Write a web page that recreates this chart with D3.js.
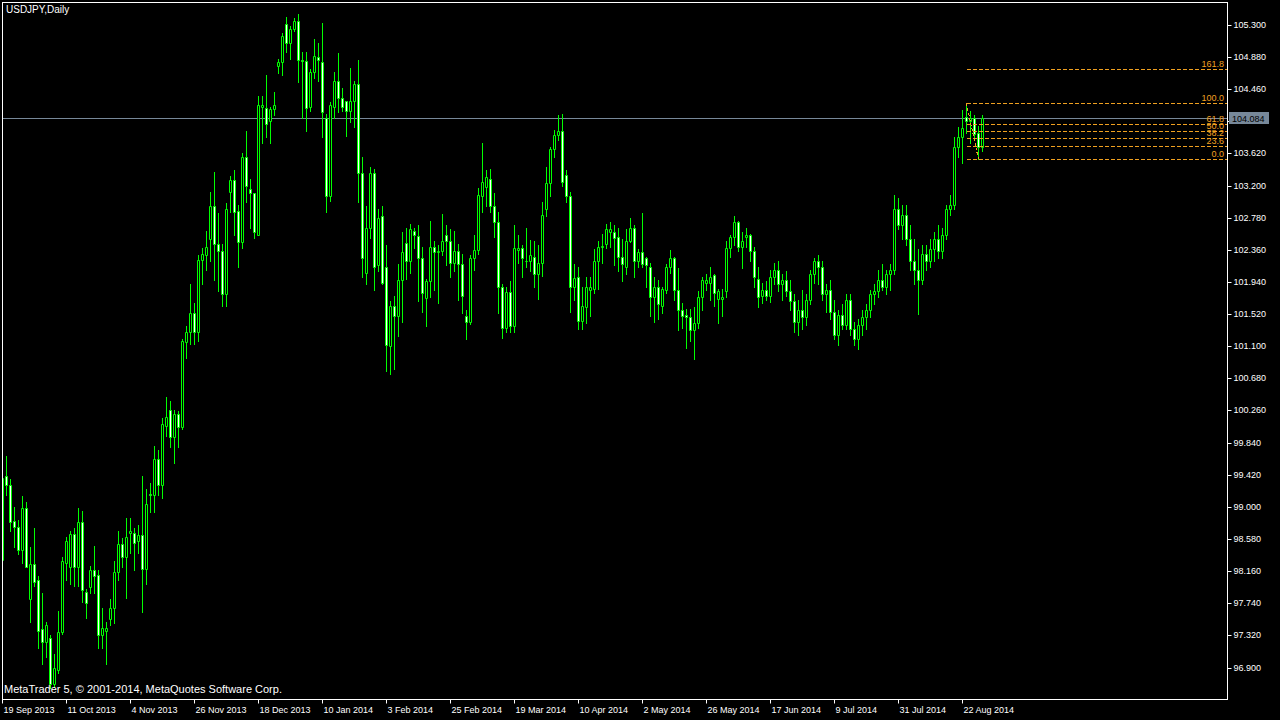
<!DOCTYPE html>
<html><head><meta charset="utf-8">
<script src="https://cdn.jsdelivr.net/npm/d3@7"></script>
<style>html,body{margin:0;padding:0;background:#000;overflow:hidden}</style>
</head><body>
<svg id="c" width="1280" height="720"></svg>
<script>
const chartTitle = "USDJPY,Daily";
const copyrightText = "MetaTrader 5, © 2001-2014, MetaQuotes Software Corp.";

const opens = [98.31,99.41,99.28,98.81,98.74,98.43,98.98,97.80,98.25,98.04,
97.40,97.23,97.29,96.69,96.87,97.36,98.27,98.22,98.65,98.21,
98.80,97.89,97.95,98.18,98.11,97.32,97.38,97.53,97.68,98.15,
98.52,98.35,98.66,98.66,98.55,98.63,98.19,99.17,99.16,99.63,
99.28,100.06,100.27,99.92,100.21,100.05,101.16,101.28,101.54,101.29,
102.23,102.29,102.50,102.94,102.44,102.34,101.78,103.12,103.28,102.87,
102.46,103.58,103.16,103.10,102.56,104.23,104.22,104.05,104.20,104.77,
104.81,105.31,105.07,105.25,105.35,104.84,104.83,104.23,104.68,104.88,
104.82,104.09,103.06,104.23,104.57,104.35,104.30,104.17,104.30,104.53,
103.37,102.06,102.65,103.37,102.16,102.80,102.14,101.10,101.62,101.49,
101.96,102.45,102.21,102.61,102.54,102.26,101.73,101.95,102.40,102.33,
102.34,102.56,102.47,102.19,102.35,102.18,101.49,101.42,102.26,102.36,
103.07,103.18,103.29,102.94,102.72,101.87,101.34,101.81,101.37,102.36,
102.39,102.21,102.21,102.27,102.05,102.19,102.89,103.23,103.68,103.86,
103.92,103.34,103.06,101.87,102.00,101.43,101.61,101.83,101.85,102.22,
102.40,102.44,102.60,102.60,102.53,102.27,102.13,102.48,102.65,102.21,
102.33,102.26,102.14,101.74,101.88,101.63,101.84,102.14,102.26,101.83,
101.57,101.51,101.48,101.31,101.41,101.75,101.93,101.93,102.03,101.72,
101.72,101.82,102.38,102.53,102.73,102.40,102.53,102.55,102.35,101.98,
101.76,101.84,101.76,102.00,102.10,101.91,101.97,101.82,101.69,101.42,
101.58,101.48,101.71,102.04,102.21,102.13,101.78,101.84,101.55,101.25,
101.51,101.38,101.71,101.32,101.19,101.38,101.48,101.58,101.78,101.82,
101.97,101.87,102.04,102.10,102.89,102.69,102.82,102.50,102.21,102.10,
101.97,102.30,102.21,102.37,102.50,102.35,102.56,102.89,102.95,103.70,
103.83,104.10,104.04,104.09,103.89,103.71];

const highs = [99.40,99.67,99.36,99.00,98.83,99.14,99.06,98.47,98.73,98.09,
97.88,97.49,97.33,97.07,97.64,98.34,98.61,98.69,98.73,98.98,
98.95,97.92,98.23,98.49,98.18,97.68,97.50,97.80,98.29,98.68,
98.59,98.86,98.85,98.72,98.76,99.41,99.23,99.31,99.80,99.75,
100.16,100.44,100.39,100.26,100.25,101.19,101.36,101.92,101.66,102.29,
102.38,102.61,103.12,103.38,102.84,102.44,102.97,103.33,103.40,102.95,
103.62,103.92,103.29,103.11,104.37,104.37,104.64,104.23,104.42,104.86,
105.19,105.41,105.29,105.39,105.44,104.95,104.95,104.73,105.12,105.06,
105.33,104.13,104.29,104.69,104.93,104.47,104.31,104.74,104.57,104.84,
103.58,102.93,103.44,103.42,102.89,102.94,102.42,101.69,101.76,102.17,
102.59,102.64,102.70,102.65,102.68,102.40,101.98,102.74,102.47,102.42,
102.83,102.68,102.63,102.61,102.44,102.30,101.58,102.29,102.55,103.17,
103.76,103.41,103.42,103.10,102.86,101.91,101.88,101.95,102.68,102.55,
102.43,102.65,102.49,102.47,102.43,102.98,103.44,103.71,103.93,104.12,
104.13,103.40,103.12,102.17,102.14,101.87,102.01,102.00,102.37,102.47,
102.57,102.70,102.73,102.69,102.65,102.50,102.63,102.78,102.68,102.37,
102.84,102.27,102.19,102.01,101.96,101.88,102.18,102.36,102.27,102.12,
101.67,101.59,101.59,101.61,101.82,102.00,102.05,102.14,102.04,101.85,
101.85,102.48,102.55,102.80,102.74,102.60,102.65,102.57,102.40,102.14,
101.93,101.95,102.10,102.19,102.21,102.04,102.08,101.97,101.78,101.71,
101.84,101.78,102.10,102.26,102.29,102.21,101.91,101.97,101.71,101.58,
101.65,101.78,101.78,101.42,101.45,101.58,101.65,101.84,101.91,102.10,
102.17,102.10,102.17,103.08,103.04,102.95,102.95,102.69,102.50,102.37,
102.43,102.43,102.50,102.60,102.69,102.65,102.95,103.08,103.84,103.96,
104.19,104.28,104.18,104.12,103.98,104.12];

const lows = [98.14,99.16,98.68,98.48,98.38,98.27,98.21,97.49,97.96,97.15,
96.94,97.04,96.63,96.65,96.83,97.34,98.05,97.99,97.97,97.96,
97.75,97.55,97.88,97.88,97.16,97.16,96.94,97.45,97.48,98.05,
98.21,97.81,98.40,98.18,98.40,97.63,97.99,98.93,98.93,99.16,
99.12,99.93,99.78,99.58,99.78,100.02,100.95,101.13,101.13,101.17,
101.92,102.10,102.22,101.97,101.82,101.62,101.62,102.86,102.56,102.14,
102.39,102.99,102.64,102.51,102.55,103.76,103.84,103.76,104.12,104.67,
104.64,104.95,104.86,105.22,104.55,104.08,103.91,104.17,104.61,104.57,
103.83,102.85,103.00,104.09,104.16,104.18,103.85,104.03,103.96,102.98,
102.00,101.91,102.52,101.83,102.08,101.91,100.77,100.74,100.80,101.23,
101.42,101.98,102.06,102.39,101.69,101.55,101.37,101.75,101.84,101.66,
102.29,102.16,102.00,102.09,101.71,101.54,101.19,101.39,102.10,102.30,
102.85,102.93,102.85,102.53,101.54,101.21,101.28,101.28,101.29,102.19,
102.00,102.13,102.08,101.87,101.72,102.02,102.80,103.07,103.58,103.80,
103.19,102.98,101.55,101.71,101.32,101.32,101.41,101.49,101.80,101.85,
102.19,102.38,102.40,102.16,102.08,101.95,102.04,102.46,102.01,102.14,
102.13,101.87,101.49,101.42,101.45,101.54,101.80,102.06,101.71,101.31,
101.34,101.08,101.17,100.93,101.34,101.58,101.83,101.71,101.62,101.41,
101.49,101.74,102.27,102.43,102.34,102.12,102.40,102.21,101.87,101.61,
101.67,101.71,101.68,101.91,101.82,101.71,101.76,101.58,101.29,101.25,
101.32,101.38,101.65,101.93,101.91,101.71,101.55,101.45,101.19,101.12,
101.32,101.32,101.25,101.12,101.06,101.25,101.32,101.48,101.65,101.74,
101.84,101.78,101.84,102.04,102.63,102.50,102.43,102.10,101.91,101.52,
101.91,102.10,102.13,102.21,102.26,102.26,102.50,102.82,102.89,103.58,
103.50,103.89,103.76,103.80,103.55,103.65];

const closes = [99.38,99.29,98.80,98.74,98.43,98.98,98.22,98.25,98.02,97.38,
97.23,97.46,96.68,96.89,97.37,98.29,98.56,98.65,98.21,98.80,
97.91,97.74,98.18,98.10,97.32,97.41,97.42,97.68,98.15,98.52,
98.35,98.60,98.69,98.53,98.63,98.19,99.04,99.15,99.63,99.29,
100.08,100.17,99.92,100.21,100.05,101.17,101.28,101.53,101.29,102.23,
102.30,102.40,102.94,102.44,102.34,101.78,102.90,103.28,102.86,102.46,
103.57,103.19,103.10,102.59,104.26,104.26,104.01,104.20,104.25,104.81,
105.15,105.07,105.25,105.35,104.84,104.83,104.22,104.68,104.89,104.84,
104.16,103.06,104.25,104.57,104.34,104.23,104.17,104.30,104.53,103.36,
102.26,102.65,103.36,102.14,102.78,101.93,101.11,101.62,101.49,101.96,
102.33,102.21,102.63,102.55,102.25,101.79,101.95,102.40,102.33,102.35,
102.47,102.47,102.19,102.35,102.18,101.76,101.42,102.26,102.36,103.08,
103.25,103.31,102.94,102.72,101.87,101.34,101.81,101.37,102.38,102.39,
102.26,102.22,102.29,102.05,102.19,102.81,103.23,103.68,103.86,103.92,
103.25,103.06,101.87,101.99,101.43,101.62,101.87,101.87,102.22,102.40,
102.41,102.63,102.63,102.52,102.27,102.18,102.48,102.65,102.21,102.33,
102.18,102.16,101.74,101.88,101.65,101.85,102.14,102.26,101.83,101.57,
101.49,101.48,101.31,101.41,101.75,101.96,101.97,102.01,101.80,101.82,
101.75,102.38,102.53,102.73,102.40,102.47,102.56,102.34,102.00,101.75,
101.84,101.76,102.00,102.10,101.91,101.97,101.82,101.69,101.42,101.58,
101.48,101.71,102.04,102.21,102.13,101.78,101.84,101.55,101.25,101.51,
101.38,101.71,101.32,101.19,101.38,101.48,101.58,101.78,101.82,101.97,
101.87,102.04,102.10,102.89,102.69,102.82,102.50,102.21,102.10,101.97,
102.30,102.21,102.37,102.50,102.35,102.56,102.89,102.95,103.70,103.83,
103.95,104.04,104.09,103.87,103.71,104.08];

const xTickLabels = ["19 Sep 2013","11 Oct 2013","4 Nov 2013","26 Nov 2013","18 Dec 2013","10 Jan 2014","3 Feb 2014","25 Feb 2014","19 Mar 2014","10 Apr 2014","2 May 2014","26 May 2014","17 Jun 2014","9 Jul 2014","31 Jul 2014","22 Aug 2014"];
const xTickBars = [0,16,32,48,64,80,96,112,128,144,160,176,192,208,224,240];
const yTickValues = [96.900,97.320,97.740,98.160,98.580,99.000,99.420,99.840,100.260,100.680,101.100,101.520,101.940,102.360,102.780,103.200,103.620,104.040,104.460,104.880,105.300];
const lastPrice = 104.084;
const fibLevels = [0, 23.6, 38.2, 50, 61.8, 100, 161.8];
const fibLowPrice = 103.55, fibHighPrice = 104.28;
const fibHighBar = 241, fibLowBar = 244;

const W = 1280, H = 720;
const plotL = 2.5, plotR = 1227.5, plotT = 2.5, plotB = 699.5;
const bull = "#000000", bear = "#ffffff", candleLine = "#00ff00";
const fibColor = "#f0a020", priceLineColor = "#778899";
const FONT = "'Liberation Sans', Arial, sans-serif";

const svg = d3.select("#c");
svg.append("rect").attr("width", W).attr("height", H).attr("fill", "#000");

const x = d3.scaleLinear().domain([0, 245]).range([2.5, 982.5]);
const y = d3.scaleLinear().domain([96.9, 105.3]).range([668, 25.5]);
const snap = v => Math.round(v - 0.5) + 0.5;

svg.append("defs").append("clipPath").attr("id", "plot")
  .append("rect").attr("x", 3).attr("y", 3).attr("width", 1224).attr("height", 696);
const g = svg.append("g").attr("clip-path", "url(#plot)");

// current price line
g.append("line").attr("x1", 3).attr("x2", 1227)
  .attr("y1", snap(y(lastPrice))).attr("y2", snap(y(lastPrice)))
  .attr("stroke", priceLineColor).attr("stroke-width", 1);

const bars = d3.range(opens.length).map(i => ({i, o: opens[i], h: highs[i], l: lows[i], c: closes[i]}));

g.append("g").selectAll("line").data(bars).join("line")
  .attr("x1", d => x(d.i)).attr("x2", d => x(d.i))
  .attr("y1", d => snap(y(d.h)) - 0.5).attr("y2", d => snap(y(d.l)) + 0.5)
  .attr("stroke", candleLine).attr("stroke-width", 1);

g.append("g").selectAll("path").data(bars).join("path")
  .attr("d", d => {
    const x0 = x(d.i) - 1, x1 = x(d.i) + 1;
    const yt = snap(y(Math.max(d.o, d.c))), yb = snap(y(Math.min(d.o, d.c)));
    return `M${x0},${yt}H${x1}V${yb}H${x0}Z`;
  })
  .attr("fill", d => d.c >= d.o ? bull : bear)
  .attr("stroke", candleLine).attr("stroke-width", 1);

// Fibonacci retracement
const fibX0 = Math.round(x(fibHighBar));
const fib = g.append("g").attr("shape-rendering", "crispEdges");
fib.append("line")
  .attr("x1", x(fibHighBar)).attr("y1", snap(y(fibHighPrice)))
  .attr("x2", x(fibLowBar)).attr("y2", snap(y(fibLowPrice)))
  .attr("stroke", fibColor).attr("stroke-dasharray", "3,2");
fibLevels.forEach(lv => {
  const p = fibLowPrice + (fibHighPrice - fibLowPrice) * lv / 100;
  const yy = snap(y(p));
  fib.append("line").attr("x1", fibX0).attr("x2", 1227).attr("y1", yy).attr("y2", yy)
    .attr("stroke", fibColor).attr("stroke-width", 1).attr("stroke-dasharray", "4,2");
  fib.append("text").attr("x", 1224).attr("y", yy - 3)
    .attr("text-anchor", "end").attr("fill", fibColor)
    .attr("font-family", FONT).attr("font-size", 9)
    .text(lv.toFixed(1));
});

// frame
svg.append("rect").attr("x", plotL).attr("y", plotT)
  .attr("width", plotR - plotL).attr("height", plotB - plotT)
  .attr("fill", "none").attr("stroke", "#fff").attr("stroke-width", 1);

// right price axis
const yAxis = d3.axisRight(y).tickValues(yTickValues)
  .tickFormat(d3.format(".3f")).tickSize(4).tickPadding(2);
const ya = svg.append("g").attr("transform", `translate(${plotR},0)`).call(yAxis);
ya.select(".domain").remove();
ya.attr("font-family", FONT).attr("font-size", 9);
ya.selectAll(".tick").attr("transform", d => `translate(0,${snap(y(d))})`);
ya.selectAll(".tick line").attr("stroke", "#fff");
ya.selectAll(".tick text").attr("fill", "#fff");

// bottom time axis
const xAxis = d3.axisBottom(x).tickValues(xTickBars)
  .tickFormat((d, i) => xTickLabels[i]).tickSize(4).tickPadding(3).offset(0);
const xa = svg.append("g").attr("transform", `translate(0,${plotB})`).call(xAxis);
xa.select(".domain").remove();
xa.attr("font-family", FONT).attr("font-size", 9);
xa.selectAll(".tick line").attr("stroke", "#fff");
xa.selectAll(".tick text").attr("fill", "#fff").attr("text-anchor", "start").attr("x", 1);

// last price label
const py = snap(y(lastPrice));
svg.append("rect").attr("x", 1229).attr("y", py - 6.5).attr("width", 40).attr("height", 12)
  .attr("fill", priceLineColor);
svg.append("text").attr("x", 1232).attr("y", py + 3.5)
  .attr("fill", "#000").attr("font-family", FONT).attr("font-size", 9)
  .text(lastPrice.toFixed(3));

// title and copyright
svg.append("text").attr("x", 6).attr("y", 13).attr("fill", "#fff")
  .attr("font-family", FONT).attr("font-size", 10).text(chartTitle);
svg.append("text").attr("x", 4).attr("y", 693).attr("fill", "#fff")
  .attr("font-family", FONT).attr("font-size", 11).text(copyrightText);
</script>
</body></html>
